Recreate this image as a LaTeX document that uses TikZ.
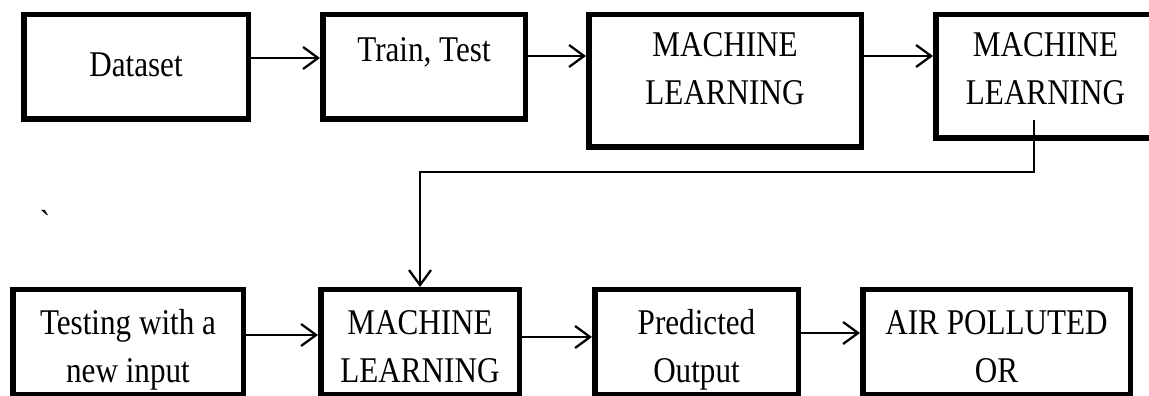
\documentclass[tikz,border=0pt]{standalone}
\usepackage{fontspec}
\setmainfont{Liberation Serif}[FakeStretch=0.86]
\usetikzlibrary{
  positioning,
  arrows.meta
}

\begin{document}
\begin{tikzpicture}[
  every node/.style={font=\fontsize{20.6}{27.2}\selectfont, align=center},
  blk/.style={
    rectangle, draw=black, line width=0.11cm, inner sep=0pt,
    minimum height=2.09cm
  },
  txt/.style={inner sep=0pt, anchor=north},
  arrow/.style={-{Straight Barb[length=3mm,width=4.4mm]}, line width=1.3pt}
]
 \useasboundingbox (0,0) rectangle (22.98,-7.92);
 \clip (0,0) rectangle (22.98,-7.92);

 % Top row: data and training
 \node[blk, minimum width=4.49cm] (ds) at (2.72,-1.34) {};
 \node[txt, below=0.805cm of ds.north] (dsT) {Dataset};

 \node[blk, minimum width=4.05cm] (tt) at (8.48,-1.34) {};
 \node[txt, below=0.505cm of tt.north] (ttT) {Train, Test};

 \node[blk, minimum width=5.45cm, minimum height=2.65cm] (ml1) at (14.5,-1.62) {};
 \node[txt, below=0.405cm of ml1.north] (ml1T) {MACHINE\\LEARNING};

 % runs past the right edge of the page
 \node[blk, minimum width=5.0cm, minimum height=2.47cm] (ml2) at (21.215,-1.53) {};
 \node[txt, below=0.405cm of ml2.north, xshift=-0.305cm] (ml2T) {MACHINE\\LEARNING};

 \draw[arrow] ([yshift=.18cm]ds.east) -- ([yshift=.18cm]ds.east -| tt.west);
 \draw[arrow] ([yshift=.22cm]tt.east) -- ([yshift=.22cm]tt.east -| ml1.west);
 \draw[arrow] ([yshift=.50cm]ml1.east) -- ([yshift=.50cm]ml1.east -| ml2.west);

 % stray mark on the left
 \node[inner sep=0pt] (tick) at (0.92,-4.46) {\textasciigrave};

 % Bottom row: testing and prediction
 \node[blk, minimum width=4.61cm, minimum height=2.11cm] (tst) at (2.56,-6.85) {};
 \node[txt, below=0.45cm of tst.north] (tstT) {Testing with a\\new input};

 \node[blk, minimum width=3.97cm, minimum height=2.11cm] (ml3) at (8.40,-6.85) {};
 \node[txt, below=0.46cm of ml3.north] (ml3T) {MACHINE\\LEARNING};

 \node[blk, minimum width=4.07cm, minimum height=2.11cm] (pred) at (13.93,-6.85) {};
 \node[txt, below=0.45cm of pred.north] (predT) {Predicted\\Output};

 \node[blk, minimum width=5.35cm, minimum height=2.11cm] (air) at (19.93,-6.85) {};
 \node[txt, below=0.46cm of air.north] (airT) {AIR POLLUTED\\OR};

 \draw[arrow] ([yshift=.15cm]tst.east) -- ([yshift=.15cm]tst.east -| ml3.west);
 \draw[arrow] ([yshift=.11cm]ml3.east) -- ([yshift=.11cm]ml3.east -| pred.west);
 \draw[arrow] ([yshift=.19cm]pred.east) -- ([yshift=.19cm]pred.east -| air.west);

 % trained model feeds the lower chain
 \draw[arrow] ([xshift=-.535cm,yshift=-.87cm]ml2.center) -- ++(0,-1.04) -| (ml3.north);
\end{tikzpicture}
\end{document}
